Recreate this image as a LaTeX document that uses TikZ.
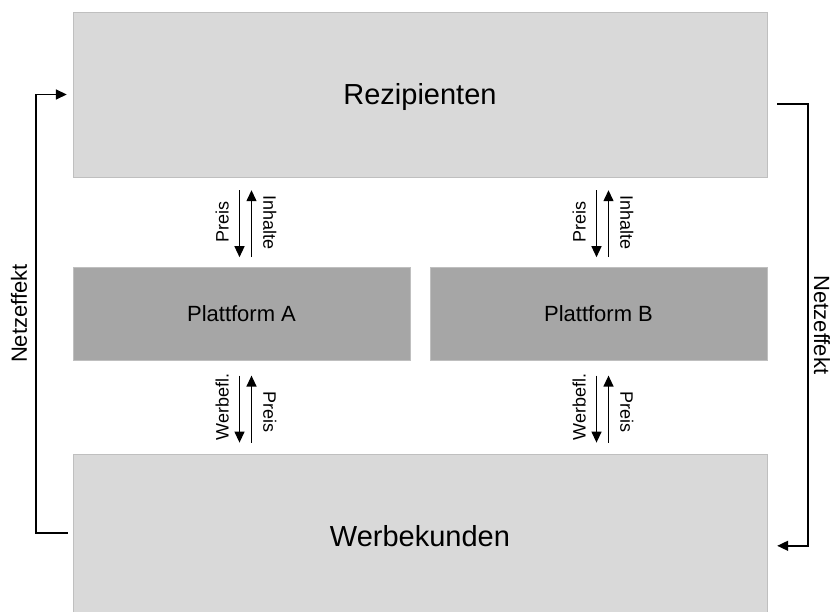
\documentclass[tikz,border=0pt]{standalone}
\usepackage{fontspec}
\setmainfont{Liberation Sans}
\usepackage{tikz}
\usetikzlibrary{arrows.meta,positioning}
\definecolor{lightbox}{HTML}{D9D9D9}
\definecolor{darkbox}{HTML}{A6A6A6}
\tikzstyle{market} = [rectangle, draw=black!25, fill=lightbox, align=center,
                      minimum width=694pt, minimum height=165pt,
                      text height=21pt, text depth=0pt,
                      font=\fontsize{29}{34}\selectfont]
\tikzstyle{platform} = [rectangle, draw=black!25, fill=darkbox, align=center,
                        minimum width=337pt, minimum height=93pt,
                        text height=16pt, text depth=0pt,
                        font=\fontsize{22}{26}\selectfont]
\tikzstyle{arrow} = [-{Triangle[length=11pt,width=10pt]}, line width=1.3pt]
\tikzstyle{feedback} = [-{Triangle[length=11pt,width=10pt]}, line width=1.6pt]
\tikzstyle{flowlabel} = [anchor=south, inner sep=0pt, font=\fontsize{18}{21}\selectfont]
\tikzstyle{netlabel} = [anchor=south, inner sep=0pt, font=\fontsize{22}{26}\selectfont]

\begin{document}
\begin{tikzpicture}[x=1pt, y=-1pt]
    \useasboundingbox (0,0) rectangle (834,612);
    \node [market] (rez) at (420,94.5) {Rezipienten};
    \node [platform, below=90pt of rez.south west, anchor=north west] (pa) {Plattform A};
    \node [platform, below=90pt of rez.south east, anchor=north east] (pb) {Plattform B};
    \node [market, below=93pt of pa.south west, anchor=north west] (wk) {Werbekunden};

    % Rezipienten <-> Plattformen
    \draw [arrow, shorten <=13pt, shorten >=10pt] ([xshift=-2pt]pa.north |- rez.south) -- node[flowlabel, rotate=90, yshift=10pt]{Preis} ([xshift=-2pt]pa.north);
    \draw [arrow, shorten <=10pt, shorten >=13pt] ([xshift=10pt]pa.north) -- node[flowlabel, rotate=-90, yshift=11pt]{Inhalte} ([xshift=10pt]pa.north |- rez.south);
    \draw [arrow, shorten <=13pt, shorten >=10pt] ([xshift=-2pt]pb.north |- rez.south) -- node[flowlabel, rotate=90, yshift=10pt]{Preis} ([xshift=-2pt]pb.north);
    \draw [arrow, shorten <=10pt, shorten >=13pt] ([xshift=10pt]pb.north) -- node[flowlabel, rotate=-90, yshift=11pt]{Inhalte} ([xshift=10pt]pb.north |- rez.south);

    % Plattformen <-> Werbekunden
    \draw [arrow, shorten <=15pt, shorten >=11pt] ([xshift=-2pt]pa.south) -- node[flowlabel, rotate=90, yshift=10pt]{Werbefl.} ([xshift=-2pt]pa.south |- wk.north);
    \draw [arrow, shorten <=11pt, shorten >=15pt] ([xshift=10pt]pa.south |- wk.north) -- node[flowlabel, rotate=-90, yshift=11pt, pos=0.45]{Preis} ([xshift=10pt]pa.south);
    \draw [arrow, shorten <=15pt, shorten >=11pt] ([xshift=-2pt]pb.south) -- node[flowlabel, rotate=90, yshift=10pt]{Werbefl.} ([xshift=-2pt]pb.south |- wk.north);
    \draw [arrow, shorten <=11pt, shorten >=15pt] ([xshift=10pt]pb.south |- wk.north) -- node[flowlabel, rotate=-90, yshift=11pt, pos=0.45]{Preis} ([xshift=10pt]pb.south);

    % Netzeffekte
    \draw [feedback, shorten <=5pt, shorten >=6pt] ([yshift=3.5pt]wk.west) -- ++(-37,0) |- node[netlabel, pos=0.25, rotate=90, yshift=8pt]{Netzeffekt} (rez.west);
    \draw [feedback, shorten <=10pt, shorten >=10pt] ([yshift=-9.5pt]rez.east) -- ++(41,0) |- node[netlabel, pos=0.25, rotate=-90, yshift=5pt]{Netzeffekt} ([yshift=-9.5pt]wk.east);
  \end{tikzpicture}
\end{document}
